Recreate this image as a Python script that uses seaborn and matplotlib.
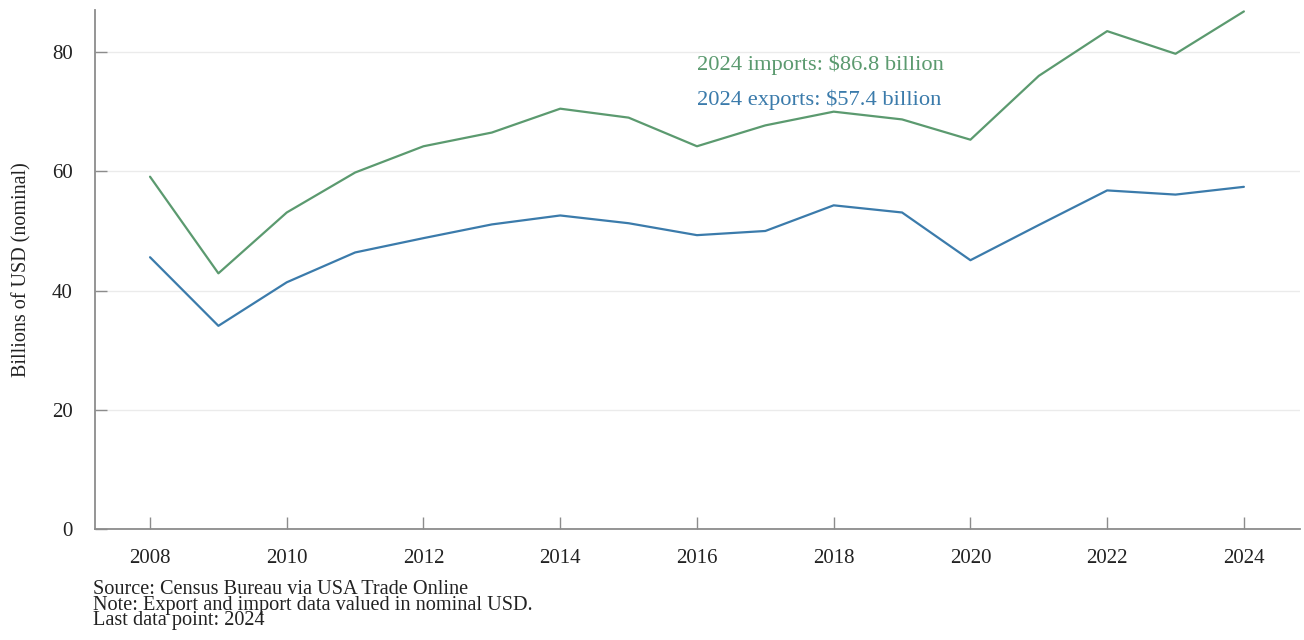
import pandas as pd
import numpy as np
import matplotlib.pyplot as plt
import seaborn as sns

# Trade data, billions of USD (nominal)
years = list(range(2008, 2025))
imports = [59.1, 42.9, 53.1, 59.8, 64.2, 66.5, 70.5, 69.0, 64.2, 67.7,
           70.0, 68.7, 65.3, 76.0, 83.5, 79.7, 86.8]
exports = [45.6, 34.1, 41.4, 46.4, 48.8, 51.1, 52.6, 51.3, 49.3, 50.0,
           54.3, 53.1, 45.1, 51.0, 56.8, 56.1, 57.4]
notes = ['Source: Census Bureau via USA Trade Online',
         'Note: Export and import data valued in nominal USD.',
         'Last data point: 2024']

green = '#5b9a6f'
blue = '#3b7bab'

sns.set_theme(style="white")
plt.rcParams['font.family'] = ['Liberation Serif', 'DejaVu Serif']
plt.rcParams['xtick.bottom'] = True
plt.rcParams['ytick.left'] = True

df = pd.DataFrame({'Year': years, 'Imports': imports, 'Exports': exports})

fig = plt.figure(figsize=(13.04, 6.4), dpi=100)
ax = fig.add_axes([0.0729, 0.173, 0.924, 0.811])

sns.lineplot(data=df, x='Year', y='Imports', color=green, linewidth=1.6, ax=ax)
sns.lineplot(data=df, x='Year', y='Exports', color=blue, linewidth=1.6, ax=ax)

ax.set_xlim(2007.196, 2024.82)
ax.set_ylim(0, 87)
ax.set_xticks(range(2008, 2025, 2))
ax.set_yticks([0, 20, 40, 60, 80])
ax.yaxis.grid(True, color='#ebebeb', linewidth=1)
ax.set_axisbelow(True)

for s in ['top', 'right']:
    ax.spines[s].set_visible(False)
for s in ['left', 'bottom']:
    ax.spines[s].set_color('#8c8c8c')
    ax.spines[s].set_linewidth(1.3)

ax.tick_params(axis='both', direction='in', length=8.5, width=1, color='#8c8c8c',
               labelsize=15, labelcolor='#222222')
ax.tick_params(axis='x', pad=14)
ax.tick_params(axis='y', pad=16)

ax.set_xlabel('')
ax.set_ylabel('Billions of USD (nominal)', fontsize=14.5, color='#222222', labelpad=15)

ax.text(2016.0, 77.9, f'2024 imports: ${imports[-1]:.1f} billion', color=green,
        fontsize=16.2, va='center', ha='left')
ax.text(2016.0, 72.0, f'2024 exports: ${exports[-1]:.1f} billion', color=blue,
        fontsize=16.2, va='center', ha='left')

# footnote block, lines packed tightly as in the original
fig.text(0.0713, 1 - 580 / 640, '\n'.join(notes), fontsize=14.6,
         color='#222222', va='top', ha='left', linespacing=0.76)

fig.savefig('out.png', dpi=100, facecolor='white')
